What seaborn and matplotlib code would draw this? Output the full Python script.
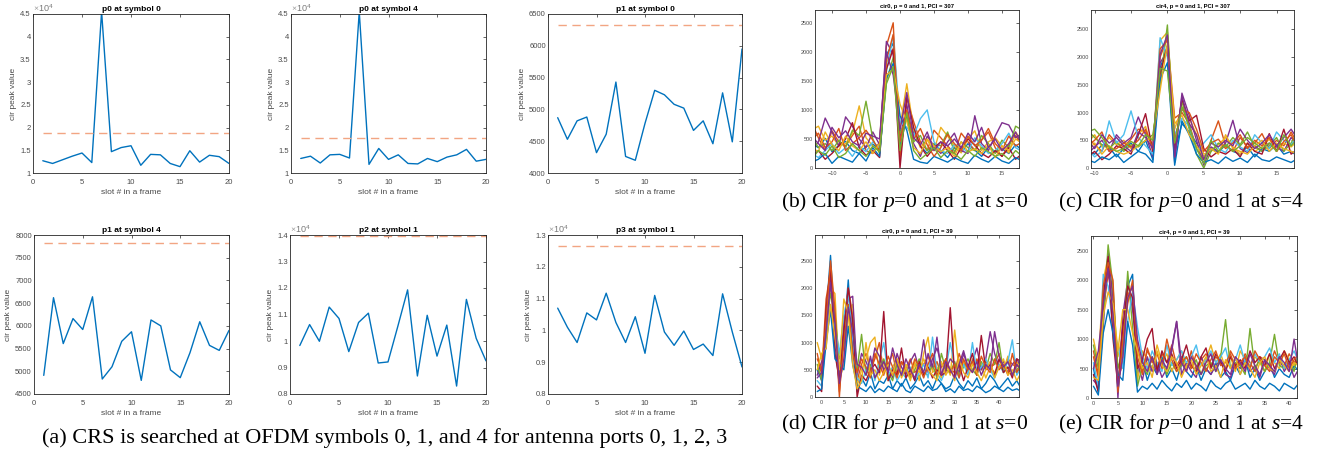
import numpy as np
import pandas as pd
import matplotlib
matplotlib.use("Agg")
import matplotlib.pyplot as plt
from matplotlib.ticker import FuncFormatter
import seaborn as sns

# ---------------- data: CIR peak value per slot ----------------
slots = list(range(1, 21))

p0_s0 = [12700, 12100, 12900, 13700, 14400, 12300, 45500, 14700, 15600, 16000,
         11700, 14100, 14000, 12100, 11400, 14900, 12400, 13900, 13600, 12100]
p0_s0_thr = 18900

p0_s4 = [13200, 13700, 12200, 14000, 14100, 13300, 45500, 11900, 15400, 13000,
         14000, 12100, 12000, 13200, 12500, 13500, 14000, 15200, 12600, 13000]
p0_s4_thr = 17700

p1_s0 = [4870, 4530, 4820, 4880, 4320, 4610, 5430, 4260, 4200, 4780,
         5300, 5230, 5080, 5020, 4670, 4820, 4460, 5260, 4490, 5950]
p1_s0_thr = 6330

p1_s4 = [4910, 6620, 5610, 6160, 5920, 6640, 4830, 5100, 5660, 5870,
         4800, 6130, 6000, 5030, 4860, 5410, 6090, 5570, 5460, 5900]
p1_s4_thr = 7820

p2_s1 = [9830, 10620, 9990, 11280, 10850, 9600, 10700, 11050, 9170, 9210,
         10550, 11930, 8680, 10970, 9430, 10600, 8300, 11570, 10100, 9250]
p2_s1_thr = 13970

p3_s1 = [10700, 10100, 9620, 10550, 10330, 11170, 10250, 9620, 10430, 9280,
         11100, 9950, 9530, 9980, 9400, 9570, 9210, 11150, 9950, 8850]
p3_s1_thr = 12650

left_titles = ["p0 at symbol 0", "p0 at symbol 4", "p1 at symbol 0",
               "p1 at symbol 4", "p2 at symbol 1", "p3 at symbol 1"]

# ---------------- data: CIR traces ----------------
taps_b = list(range(-13, 19))
cir_b = [
    [420, 350, 510, 280, 390, 460, 300, 250, 370, 410, 320, 1950, 2150, 350, 900, 620,
     380, 250, 410, 300, 180, 350, 270, 420, 310, 200, 360, 280, 330, 250, 400, 300],
    [780, 520, 300, 640, 450, 380, 560, 720, 300, 250, 450, 2100, 2500, 150, 1200, 800,
     450, 300, 650, 520, 380, 250, 600, 450, 300, 480, 620, 350, 200, 400, 560, 380],
    [650, 720, 480, 550, 380, 420, 600, 1070, 520, 380, 300, 1800, 2050, 700, 1450, 650,
     350, 480, 300, 700, 550, 380, 260, 500, 640, 300, 450, 520, 380, 260, 620, 450],
    [300, 450, 860, 620, 380, 880, 720, 500, 350, 620, 400, 2180, 1950, 500, 1100, 420,
     200, 550, 380, 250, 450, 600, 300, 250, 900, 420, 300, 550, 780, 740, 520, 600],
    [550, 350, 420, 300, 480, 350, 650, 560, 1150, 500, 250, 1500, 1900, 600, 850, 450,
     560, 300, 420, 380, 620, 280, 450, 350, 300, 560, 420, 250, 480, 350, 720, 650],
    [250, 180, 300, 420, 250, 350, 200, 380, 280, 450, 350, 1650, 2280, 800, 700, 550,
     850, 1000, 450, 300, 250, 400, 350, 280, 520, 380, 250, 300, 420, 600, 350, 280],
    [200, 300, 150, 250, 380, 500, 780, 350, 220, 300, 180, 1700, 2050, 0, 1250, 700,
     380, 200, 350, 450, 300, 150, 350, 500, 400, 250, 180, 300, 200, 350, 150, 250],
    [100, 150, 250, 80, 200, 150, 100, 250, 120, 350, 200, 1550, 1800, 900, 650, 150,
     100, 80, 200, 150, 100, 180, 120, 80, 220, 150, 100, 200, 120, 80, 180, 120],
    [480, 600, 350, 450, 680, 300, 420, 520, 650, 480, 300, 1850, 2300, 450, 1000, 500,
     680, 400, 200, 350, 580, 420, 300, 550, 380, 480, 680, 420, 300, 550, 380, 450],
    [350, 280, 620, 400, 300, 550, 380, 300, 450, 250, 420, 1600, 1700, 1100, 800, 350,
     250, 500, 380, 280, 350, 200, 450, 280, 330, 250, 400, 180, 380, 300, 500, 420],
    [550, 420, 300, 700, 520, 640, 450, 380, 600, 550, 500, 2000, 1600, 650, 1300, 520,
     400, 620, 300, 450, 380, 500, 350, 600, 450, 700, 350, 500, 300, 420, 620, 380],
    [150, 300, 220, 380, 180, 250, 420, 300, 200, 380, 280, 1450, 1750, 300, 950, 300,
     150, 250, 350, 180, 300, 250, 150, 300, 200, 350, 280, 200, 250, 150, 300, 200],
]

taps_c = list(range(-11, 19))
cir_c = [
    [300, 250, 420, 380, 200, 350, 450, 300, 500, 150, 1800, 2200, 300, 800, 650,
     450, 200, 350, 280, 420, 300, 250, 380, 200, 350, 300, 420, 250, 300, 200],
    [550, 420, 300, 600, 450, 380, 520, 700, 650, 400, 2000, 2350, 900, 1000, 800,
     350, 150, 500, 850, 400, 300, 550, 380, 450, 620, 350, 500, 400, 650, 420],
    [450, 600, 380, 550, 420, 500, 350, 600, 750, 300, 2300, 2450, 700, 1100, 900,
     600, 250, 300, 420, 550, 380, 250, 450, 300, 380, 520, 300, 450, 380, 500],
    [250, 380, 500, 300, 600, 450, 550, 920, 600, 200, 1900, 2100, 100, 1350, 950,
     500, 50, 380, 300, 450, 860, 350, 280, 400, 300, 450, 380, 300, 550, 400],
    [680, 550, 420, 350, 480, 300, 420, 380, 500, 600, 1500, 2580, 400, 1200, 700,
     250, 0, 300, 450, 380, 550, 420, 650, 380, 300, 400, 550, 300, 450, 680],
    [350, 200, 300, 850, 450, 600, 1030, 550, 400, 250, 2350, 2000, 600, 900, 750,
     300, 450, 600, 350, 280, 500, 380, 300, 600, 450, 350, 650, 500, 420, 600],
    [200, 300, 150, 250, 400, 350, 250, 600, 980, 300, 1700, 2200, 350, 1250, 850,
     950, 350, 200, 300, 250, 350, 200, 450, 300, 250, 620, 300, 700, 250, 350],
    [150, 100, 200, 150, 250, 100, 200, 300, 250, 100, 1600, 1900, 50, 850, 600,
     250, 100, 150, 80, 200, 120, 180, 100, 250, 150, 120, 200, 150, 100, 180],
    [400, 500, 650, 300, 350, 450, 380, 500, 700, 350, 2150, 2300, 500, 1050, 1000,
     700, 300, 450, 520, 350, 450, 600, 350, 500, 400, 550, 300, 480, 600, 350],
    [300, 450, 250, 400, 300, 250, 300, 400, 500, 550, 1400, 2250, 800, 950, 600,
     400, 200, 350, 250, 600, 350, 300, 250, 400, 500, 300, 450, 350, 300, 250],
    [500, 350, 600, 450, 550, 400, 300, 650, 550, 350, 2050, 2400, 200, 1300, 800,
     600, 150, 450, 380, 500, 400, 700, 500, 350, 450, 600, 400, 550, 700, 500],
    [650, 700, 550, 380, 300, 350, 480, 400, 600, 500, 1800, 1750, 450, 1100, 750,
     350, 80, 500, 300, 420, 300, 400, 550, 450, 350, 450, 300, 600, 400, 550],
]

taps_d = list(range(-1, 46))
cir_d = [
    [500, 300, 1500, 2600, 1200, 400, 1100, 2150, 900, 100, 350, 200, 450, 150, 300,
     250, 400, 150, 300, 200, 350, 150, 250, 400, 200, 300, 150, 350, 250, 150,
     200, 400, 250, 150, 300, 200, 350, 150, 250, 400, 300, 150, 250, 350, 200, 300, 150],
    [800, 400, 1800, 2300, 1400, 0, 1300, 2000, 1500, 300, 600, 800, 500, 700, 1000,
     450, 600, 800, 400, 650, 500, 700, 450, 550, 600, 750, 500, 650, 400, 700,
     500, 450, 800, 550, 600, 450, 700, 500, 650, 550, 600, 800, 450, 700, 600, 550, 700],
    [1000, 700, 1200, 2000, 1900, 300, 600, 1500, 1700, 200, 500, 700, 1000, 1100, 400,
     650, 300, 550, 700, 450, 600, 500, 650, 300, 800, 1100, 450, 550, 350, 600,
     400, 1230, 500, 650, 450, 700, 500, 600, 350, 550, 450, 600, 500, 750, 400, 650, 500],
    [400, 650, 900, 2200, 1000, 200, 1400, 1800, 1850, 400, 800, 650, 450, 900, 750,
     500, 600, 350, 800, 550, 400, 650, 800, 500, 1050, 450, 700, 900, 600, 500,
     700, 600, 450, 800, 550, 650, 900, 500, 700, 1200, 800, 550, 650, 450, 600, 700, 550],
    [600, 300, 1300, 1900, 1500, 700, 900, 1700, 1300, 500, 1150, 400, 600, 350, 500,
     700, 450, 300, 600, 400, 550, 350, 500, 700, 450, 400, 600, 350, 800, 500,
     450, 650, 400, 550, 700, 500, 400, 650, 500, 800, 600, 1000, 450, 550, 400, 500, 600],
    [300, 200, 1100, 1700, 1300, 800, 1500, 1900, 1100, 350, 250, 500, 700, 300, 650,
     1000, 400, 550, 300, 450, 350, 550, 300, 450, 600, 350, 1100, 450, 300, 500,
     1000, 550, 350, 600, 400, 1000, 450, 550, 700, 500, 350, 600, 450, 650, 1050, 400, 550],
    [200, 100, 1600, 2400, 800, 300, 1200, 2000, 1400, 0, 400, 300, 500, 600, 450,
     1570, 300, 500, 400, 900, 350, 500, 300, 650, 400, 550, 350, 500, 400, 450,
     1640, 400, 600, 300, 550, 800, 400, 1130, 500, 600, 400, 700, 450, 550, 350, 700, 650],
    [100, 150, 1000, 1600, 700, 600, 500, 1300, 600, 200, 150, 100, 200, 80, 150,
     100, 200, 150, 100, 250, 120, 80, 200, 150, 100, 200, 120, 150, 250, 100,
     150, 80, 200, 120, 150, 100, 200, 150, 80, 120, 200, 150, 100, 180, 120, 150, 100],
    [700, 500, 1400, 2500, 1600, 100, 1000, 1700, 800, 450, 700, 550, 350, 800, 600,
     400, 750, 550, 350, 650, 500, 400, 700, 550, 350, 600, 800, 400, 550, 700,
     450, 600, 350, 700, 500, 650, 400, 750, 550, 450, 700, 500, 600, 400, 800, 450, 600],
    [500, 800, 900, 1700, 1100, 500, 1800, 1550, 600, 150, 300, 1000, 400, 500, 300,
     450, 600, 400, 700, 350, 550, 300, 600, 450, 700, 500, 400, 300, 650, 400,
     550, 300, 700, 450, 350, 600, 450, 300, 500, 650, 350, 550, 700, 400, 500, 300, 450],
    [350, 450, 1200, 2100, 1350, 250, 700, 1650, 1200, 600, 550, 400, 750, 350, 500,
     650, 450, 900, 600, 400, 700, 500, 350, 600, 450, 800, 550, 1100, 400, 650,
     500, 350, 600, 850, 550, 450, 650, 400, 600, 500, 1200, 750, 550, 650, 400, 600, 500],
]

taps_e = list(range(0, 43))
cir_e = [
    [500, 100, 1800, 2300, 1500, 100, 900, 1900, 2100, 400, 650, 300, 550, 400, 700,
     350, 500, 300, 600, 450, 350, 550, 300, 500, 400, 600, 350, 450, 300, 550,
     400, 650, 350, 500, 300, 450, 600, 350, 500, 400, 350, 550, 450],
    [800, 400, 1500, 2100, 1800, 300, 600, 1800, 1600, 900, 450, 800, 650, 500, 750,
     600, 900, 550, 700, 450, 800, 500, 650, 750, 550, 700, 600, 500, 800, 650,
     550, 750, 600, 450, 700, 650, 500, 800, 600, 550, 750, 600, 700],
    [1000, 600, 2000, 2400, 1300, 700, 1100, 1700, 1900, 300, 800, 650, 500, 900, 600,
     750, 450, 650, 800, 500, 700, 550, 400, 650, 900, 600, 750, 500, 700, 450,
     800, 650, 550, 700, 600, 450, 750, 600, 500, 800, 650, 550, 700],
    [300, 200, 1200, 2500, 1700, 0, 1400, 2000, 1500, 600, 300, 700, 450, 600, 350,
     500, 800, 1300, 400, 600, 450, 350, 700, 500, 400, 550, 650, 400, 350, 600,
     500, 700, 450, 550, 350, 650, 500, 400, 700, 450, 600, 350, 500],
    [900, 500, 1300, 2600, 1900, 500, 800, 2150, 1200, 200, 550, 400, 700, 500, 650,
     400, 600, 450, 550, 700, 500, 650, 400, 550, 600, 450, 700, 1330, 500, 600,
     550, 400, 1180, 500, 650, 450, 600, 1080, 550, 500, 650, 450, 850],
    [600, 200, 2100, 1900, 1200, 900, 500, 1300, 1800, 1200, 700, 500, 800, 600, 450,
     900, 550, 650, 800, 600, 700, 900, 550, 650, 800, 600, 700, 850, 500, 650,
     900, 600, 550, 750, 600, 700, 850, 600, 750, 500, 650, 800, 600],
    [400, 100, 1700, 2400, 1000, 200, 1200, 1900, 1700, 500, 650, 1000, 1180, 450, 800,
     600, 750, 500, 650, 900, 550, 450, 700, 850, 500, 750, 600, 450, 700, 550,
     650, 500, 800, 600, 700, 550, 750, 500, 650, 800, 600, 700, 500],
    [200, 50, 1100, 1500, 1100, 400, 300, 1300, 900, 100, 200, 150, 250, 150, 300,
     200, 120, 250, 180, 300, 150, 250, 200, 120, 300, 200, 150, 250, 300, 150,
     200, 250, 150, 300, 200, 150, 250, 200, 120, 250, 200, 150, 250],
    [700, 350, 1900, 2300, 2000, 100, 1000, 1600, 2000, 700, 400, 850, 600, 750, 500,
     1000, 650, 450, 600, 700, 500, 750, 600, 450, 650, 800, 550, 600, 750, 500,
     600, 700, 500, 800, 650, 550, 450, 700, 600, 750, 500, 650, 750],
    [350, 300, 1400, 1800, 1600, 800, 1500, 1500, 1100, 800, 500, 600, 350, 800, 550,
     450, 700, 600, 350, 550, 650, 400, 550, 700, 450, 550, 350, 650, 500, 700,
     400, 600, 500, 350, 600, 700, 500, 450, 650, 550, 450, 600, 550],
    [500, 800, 1600, 2200, 1400, 200, 700, 1700, 1900, 1000, 600, 450, 700, 400, 650,
     500, 850, 1300, 600, 450, 700, 550, 400, 600, 750, 450, 650, 500, 400, 700,
     600, 450, 750, 550, 400, 650, 550, 450, 700, 600, 450, 1000, 500],
]

cir_titles = ["cir0, p = 0 and 1, PCI = 307", "cir4, p = 0 and 1, PCI = 307",
              "cir0, p = 0 and 1, PCI = 39", "cir4, p = 0 and 1, PCI = 39"]
captions = [
    "(a) CRS is searched at OFDM symbols 0, 1, and 4 for antenna ports 0, 1, 2, 3",
    r"(b) CIR for $p$=0 and 1 at $s$=0",
    r"(c) CIR for $p$=0 and 1 at $s$=4",
    r"(d) CIR for $p$=0 and 1 at $s$=0",
    r"(e) CIR for $p$=0 and 1 at $s$=4",
]

# ---------------- style ----------------
sns.set_theme(style="white")
plt.rcParams["font.family"] = ["Liberation Sans", "DejaVu Sans"]
plt.rcParams["mathtext.fontset"] = "custom"
plt.rcParams["mathtext.rm"] = "Liberation Serif"
plt.rcParams["mathtext.it"] = "Liberation Serif:italic"
plt.rcParams["mathtext.sf"] = "Liberation Sans"

MATLAB = ["#0072BD", "#D95319", "#EDB120", "#7E2F8E", "#77AC30", "#4DBEEE", "#A2142F"]
AX_COL = "#262626"
TXT_COL = "#4a4a4a"
THR_COL = "#F2A583"

W, H = 1322, 451
fig = plt.figure(figsize=(W / 100, H / 100), dpi=100)
fig.patch.set_facecolor("white")


def px_axes(l, t, r, b):
    return fig.add_axes([l / W, 1 - b / H, (r - l) / W, (b - t) / H])


def style_axes(ax, fs, length=2.5, xpad=2.0, ypad=2.0):
    for s in ax.spines.values():
        s.set_color(AX_COL)
        s.set_linewidth(0.6)
    ax.tick_params(direction="in", length=length, width=0.5, color=AX_COL,
                   top=True, right=True, labelsize=fs, labelcolor=TXT_COL)
    ax.tick_params(axis="x", pad=xpad)
    ax.tick_params(axis="y", pad=ypad)
    ax.grid(False)


# ---------------- (a) six peak-value panels ----------------
left_boxes = [(33, 14, 229, 173), (291, 14, 486, 173), (548, 14, 742, 173),
              (34, 235, 229, 394), (290, 235, 486, 394), (548, 235, 742, 394)]
left_series = [(p0_s0, p0_s0_thr), (p0_s4, p0_s4_thr), (p1_s0, p1_s0_thr),
               (p1_s4, p1_s4_thr), (p2_s1, p2_s1_thr), (p3_s1, p3_s1_thr)]
left_ylims = [(10000, 45000), (10000, 45000), (4000, 6500),
              (4500, 8000), (8000, 14000), (8000, 13000)]
left_ysteps = [5000, 5000, 500, 500, 1000, 1000]
left_sci = [True, True, False, False, True, True]

for box, (vals, thr), ylim, step, sci, title in zip(
        left_boxes, left_series, left_ylims, left_ysteps, left_sci, left_titles):
    ax = px_axes(*box)
    sns.lineplot(x=slots, y=vals, color=MATLAB[0], linewidth=1.0, ax=ax)
    sns.lineplot(x=[slots[0], slots[-1]], y=[thr, thr], color=THR_COL,
                 linewidth=1.0, linestyle=(0, (6, 4)), ax=ax)
    ax.set_xlim(0, 20)
    ax.set_ylim(*ylim)
    ax.set_xticks([0, 5, 10, 15, 20])
    ax.set_yticks(np.arange(ylim[0], ylim[1] + 1, step))
    if sci:
        ax.yaxis.set_major_formatter(FuncFormatter(lambda v, p: f"{v / 1e4:g}"))
        ax.text(0.0, 1.0, r"$\times\mathsf{10^{4}}$", transform=ax.transAxes,
                fontsize=6.5, color="#7a7a7a", ha="left", va="bottom")
    else:
        ax.yaxis.set_major_formatter(FuncFormatter(lambda v, p: f"{v:g}"))
    style_axes(ax, 5.5, xpad=4.0, ypad=1.6)
    ax.set_title(title, fontsize=6, fontweight="bold", color="black", pad=2)
    ax.set_xlabel("slot # in a frame", fontsize=6, color=TXT_COL, labelpad=2.5)
    ax.set_ylabel("cir peak value", fontsize=6, color=TXT_COL, labelpad=2.5)

# ---------------- (b)-(e) CIR spaghetti panels ----------------
cir_boxes = [(815, 10, 1019, 168), (1091, 10, 1294, 168),
             (815, 235, 1019, 397), (1091, 236, 1297, 398)]
cir_sets = [(taps_b, cir_b), (taps_c, cir_c), (taps_d, cir_d), (taps_e, cir_e)]
cir_xlims = [(-12.5, 17.5), (-10.5, 17.4), (-1.5, 44.5), (-0.5, 41.6)]
cir_ylims = [(0, 2720), (0, 2850), (0, 2975), (0, 2750)]
cir_xticks = [range(-10, 16, 5), range(-10, 16, 5), range(0, 41, 5), range(0, 41, 5)]

for box, (taps, traces), xlim, ylim, xt, title in zip(
        cir_boxes, cir_sets, cir_xlims, cir_ylims, cir_xticks, cir_titles):
    ax = px_axes(*box)
    frames = []
    for k, tr in enumerate(traces):
        frames.append(pd.DataFrame({"tap": taps, "amp": tr, "trace": f"t{k}"}))
    df = pd.concat(frames, ignore_index=True)
    pal = [MATLAB[k % len(MATLAB)] for k in range(len(traces))]
    sns.lineplot(data=df, x="tap", y="amp", hue="trace", palette=pal,
                 estimator=None, legend=False, linewidth=1.0, ax=ax)
    ax.set_xlim(*xlim)
    ax.set_ylim(*ylim)
    ax.set_xticks(list(xt))
    ax.set_yticks([0, 500, 1000, 1500, 2000, 2500])
    style_axes(ax, 4, length=2, xpad=2.0, ypad=1.5)
    ax.set_xlabel("")
    ax.set_ylabel("")
    ax.set_title(title, fontsize=4.2, fontweight="bold", color="black", pad=1.5)

# ---------------- captions ----------------
cap_pos = [(385, 438), (905, 202), (1181, 202), (905, 424), (1181, 424)]
cap_size = [16, 15.5, 15.5, 15.5, 15.5]
for (cx, cy), txt, fs in zip(cap_pos, captions, cap_size):
    fig.text(cx / W, 1 - cy / H, txt, ha="center", va="center",
             fontsize=fs, family="Liberation Serif", color="black")

fig.savefig("out.png", dpi=100, facecolor="white")
